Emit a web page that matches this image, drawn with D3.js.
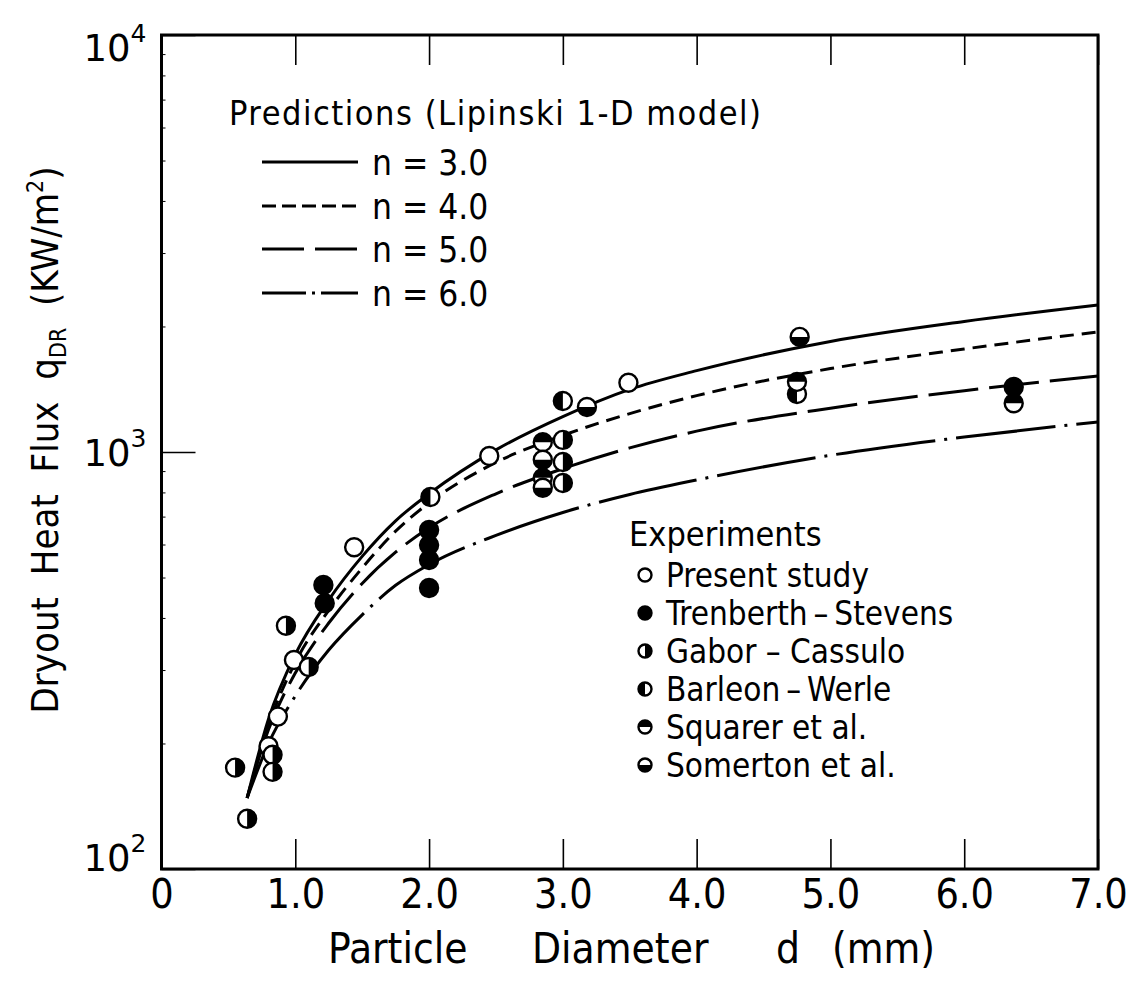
<!DOCTYPE html>
<html>
<head>
<meta charset="utf-8">
<script src="https://cdn.jsdelivr.net/npm/d3@7"></script>
<style>
  html, body { margin: 0; padding: 0; background: #fff; }
  svg { display: block; }
  text { font-family: "DejaVu Sans Condensed", "DejaVu Sans", sans-serif; font-stretch: condensed; fill: #000; }
</style>
</head>
<body>
<svg id="chart" width="1131" height="984"></svg>
<script>
// Particle diameter (mm) ticks and heat-flux decades
const xTicks = [0, 1, 2, 3, 4, 5, 6, 7];
const yTicks = [100, 1000, 10000];

// Lipinski 1-D model predictions: [diameter mm, dryout heat flux kW/m2]
const predN3 = [[0.64,148],[0.8,229],[1.0,327],[1.25,442],[1.5,562],[1.75,684],[2.0,794],[2.5,1012],[3.0,1216],[3.5,1413],[4.0,1567],[5.0,1841],[6.0,2056],[7.0,2252]];
const predN4 = [[0.64,148],[0.8,221],[1.0,313],[1.25,417],[1.5,527],[1.75,646],[2.0,755],[2.5,944],[3.0,1096],[3.5,1236],[4.0,1365],[5.0,1585],[6.0,1766],[7.0,1941]];
const predN5 = [[0.64,148],[0.8,216],[1.0,295],[1.25,389],[1.5,484],[1.75,575],[2.0,658],[2.5,794],[3.0,912],[3.5,1023],[4.0,1122],[5.0,1274],[6.0,1403],[7.0,1521]];
const predN6 = [[0.64,148],[0.8,200],[1.0,260],[1.25,335],[1.5,407],[1.75,479],[2.0,537],[2.5,631],[3.0,716],[3.5,791],[4.0,857],[5.0,982],[6.0,1086],[7.0,1180]];

const predLabels = ["n = 3.0", "n = 4.0", "n = 5.0", "n = 6.0"];

// Experimental data: [diameter mm, dryout heat flux kW/m2]
const presentStudy = [[0.80,197],[0.87,232],[0.99,317],[1.44,591],[2.45,978],[3.49,1466]];
const trenberthStevens = [[1.21,480],[1.22,434],[2.0,650],[2.0,598],[2.0,551],[2.0,472],[6.37,1432]];
const gaborCassulo = [[0.55,175],[0.64,132],[0.83,188],[0.83,171],[0.93,383],[1.10,305],[3.0,1069],[3.0,946],[3.0,843]];
const barleonWerle = [[2.01,780],[3.0,1325],[4.75,1378]];
const squarerEtAl = [[2.85,1056],[2.85,867],[4.75,1473],[6.37,1309]];
const somertonEtAl = [[2.85,958],[2.85,821],[3.18,1282],[4.77,1888]];

const expLabels = ["Present study", "Trenberth\u2009\u2013\u2009Stevens", "Gabor \u2013 Cassulo", "Barleon\u2009\u2013\u2009Werle", "Squarer et al.", "Somerton et al."];

const svg = d3.select("#chart");
const mLeft = 161.5, mRight = 1098, mTop = 35, mBottom = 869;

const x = d3.scaleLinear().domain([0, 7]).range([mLeft, mRight]);
const y = d3.scaleLog().domain([100, 10000]).range([mBottom, mTop]);

// minor log ticks on the left edge
const minor = [];
[100, 1000].forEach(b => { for (let k = 2; k <= 9; k++) minor.push(b * k); });
svg.append("g")
  .attr("transform", `translate(${mLeft},0)`)
  .call(d3.axisLeft(y).tickValues(minor).tickSize(-4).tickFormat(""))
  .call(g => g.select(".domain").remove())
  .call(g => g.selectAll("line").attr("stroke", "#000").attr("stroke-width", 1));

// x axis (bottom): inward ticks + labels
const xAxis = svg.append("g")
  .attr("transform", `translate(0,${mBottom})`)
  .call(d3.axisBottom(x).tickValues(xTicks).tickSize(-30).tickPadding(10)
    .tickFormat(d => d === 0 ? "0" : d.toFixed(1)));
xAxis.select(".domain").remove();
xAxis.selectAll("line").attr("stroke", "#000").attr("stroke-width", 1.6);
xAxis.selectAll("text").attr("font-size", 41).attr("fill", "#000")
  .style("font-family", null);

// x axis (top): inward ticks
const xTop = svg.append("g")
  .attr("transform", `translate(0,${mTop})`)
  .call(d3.axisTop(x).tickValues(xTicks).tickSize(-30).tickFormat(""));
xTop.select(".domain").remove();
xTop.selectAll("line").attr("stroke", "#000").attr("stroke-width", 1.6);

// y axis: decade ticks with power-of-ten labels
const yAxis = svg.append("g")
  .attr("transform", `translate(${mLeft},0)`)
  .call(d3.axisLeft(y).tickValues(yTicks).tickSize(-34).tickFormat(""));
yAxis.select(".domain").remove();
yAxis.selectAll("line").attr("stroke", "#000").attr("stroke-width", 1.6);
const labelShift = { 100: -12, 1000: 0, 10000: 12 };
yAxis.selectAll(".tick").each(function (d) {
  const t = d3.select(this).append("text")
    .attr("x", -15).attr("y", labelShift[d]).attr("dy", "0.36em")
    .attr("text-anchor", "end").attr("font-size", 37).attr("fill", "#000")
    .style("font-family", "'DejaVu Sans', sans-serif").style("font-stretch", "normal");
  t.append("tspan").text("10");
  t.append("tspan").attr("font-size", 25).attr("dy", "-0.75em").text(Math.round(Math.log10(d)));
});

// frame
svg.append("rect")
  .attr("x", mLeft).attr("y", mTop)
  .attr("width", mRight - mLeft).attr("height", mBottom - mTop)
  .attr("fill", "none").attr("stroke", "#000").attr("stroke-width", 3);

// prediction curves
const line = d3.line().x(d => x(d[0])).y(d => y(d[1])).curve(d3.curveMonotoneX);
const preds = [predN3, predN4, predN5, predN6];
const curveDash = [null, "14,8", "50,11", "100,9,3,9"];
const legendDash = [null, "14,6", "42,11", "44,6,3,6"];
svg.append("g").selectAll("path").data(preds).join("path")
  .attr("d", line)
  .attr("fill", "none").attr("stroke", "#000").attr("stroke-width", 3)
  .attr("stroke-dasharray", (d, i) => curveDash[i]);

// markers: open, filled, or half-filled circles
const R = 9;
function marker(g, kind, r) {
  const base = kind === "filled" ? "#000" : "#fff";
  g.append("circle").attr("r", r).attr("fill", base).attr("stroke", "#000").attr("stroke-width", 2.4);
  const arc = d3.arc().innerRadius(0).outerRadius(r);
  const halves = {
    gabor: [0, Math.PI],                       // right half
    barleon: [Math.PI, 2 * Math.PI],           // left half
    squarer: [-Math.PI / 2, Math.PI / 2],      // top half
    somerton: [Math.PI / 2, 3 * Math.PI / 2]   // bottom half
  };
  if (halves[kind]) {
    g.append("path").attr("d", arc({ startAngle: halves[kind][0], endAngle: halves[kind][1] })).attr("fill", "#000");
  }
}
const series = [
  [presentStudy, "open"], [trenberthStevens, "filled"], [gaborCassulo, "gabor"],
  [barleonWerle, "barleon"], [squarerEtAl, "squarer"], [somertonEtAl, "somerton"]
];
const pts = svg.append("g");
series.forEach(([data, kind]) => {
  pts.append("g").selectAll("g").data(data).join("g")
    .attr("transform", d => `translate(${x(d[0])},${y(d[1])})`)
    .each(function () { marker(d3.select(this), kind, R); });
});

// prediction legend
const lg = svg.append("g");
lg.append("text").attr("x", 229).attr("y", 125).attr("font-size", 34)
  .attr("textLength", 532).attr("lengthAdjust", "spacing")
  .text("Predictions (Lipinski 1-D model)");
const rowY = [162, 206, 249, 293];
predLabels.forEach((lab, i) => {
  const yy = rowY[i];
  lg.append("line").attr("x1", 262).attr("x2", 358).attr("y1", yy).attr("y2", yy)
    .attr("stroke", "#000").attr("stroke-width", 3).attr("stroke-dasharray", legendDash[i]);
  lg.append("text").attr("x", 372).attr("y", yy + 13).attr("font-size", 35).text(lab);
});

// experiments legend
const eg = svg.append("g");
eg.append("text").attr("x", 629).attr("y", 546).attr("font-size", 34).text("Experiments");
const kinds = ["open", "filled", "gabor", "barleon", "squarer", "somerton"];
expLabels.forEach((lab, i) => {
  const yy = 575 + i * 38;
  const g = eg.append("g").attr("transform", `translate(645,${yy})`);
  marker(g, kinds[i], 6.5);
  eg.append("text").attr("x", 666).attr("y", yy + 12).attr("font-size", 33).text(lab);
});

// x axis title, words spaced out
const xt = svg.append("text").attr("y", 963).attr("font-size", 42);
[["Particle", 328], ["Diameter", 532], ["d", 776], ["(mm)", 832]].forEach(([w, px]) => {
  xt.append("tspan").attr("x", px).text(w);
});

// y axis title
const yt = svg.append("text")
  .attr("transform", "translate(58,440) rotate(-90)")
  .attr("text-anchor", "middle").attr("font-size", 38).style("white-space", "pre");
yt.append("tspan").text("Dryout  Heat  Flux  q");
yt.append("tspan").attr("font-size", 23).attr("dy", 8).text("DR");
yt.append("tspan").attr("dy", -8).text("  (KW/m");
yt.append("tspan").attr("font-size", 23).attr("dy", -15).text("2");
yt.append("tspan").attr("dy", 15).text(")");
</script>
</body>
</html>
